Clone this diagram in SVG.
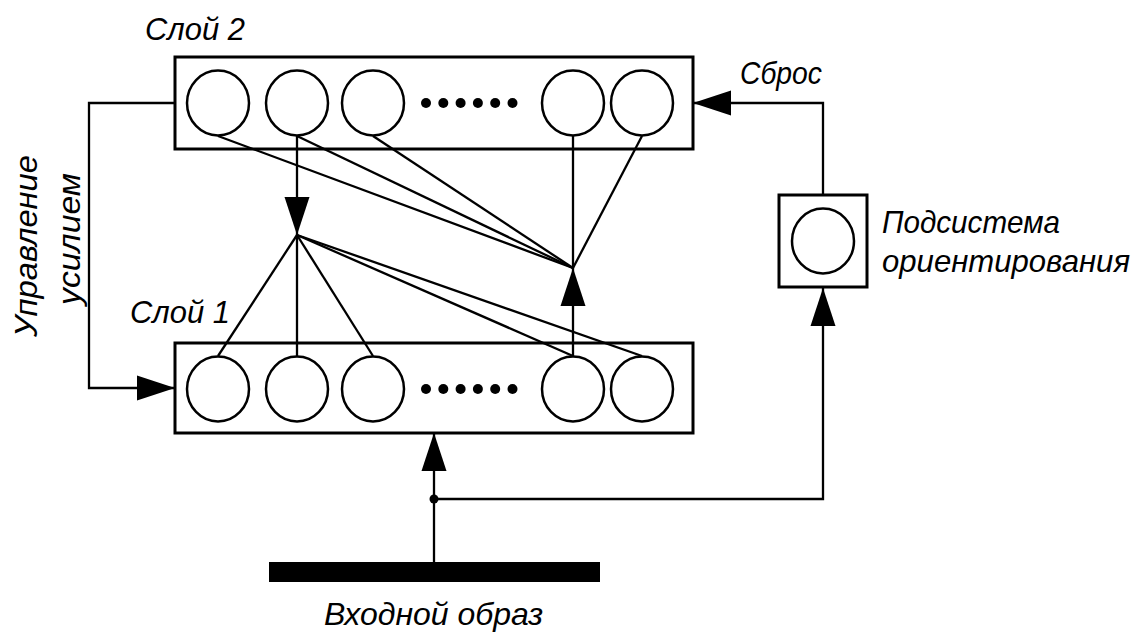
<svg xmlns="http://www.w3.org/2000/svg" width="1136" height="633" viewBox="0 0 1136 633">
  <style>
    .box { fill: #fff; stroke: #000; stroke-width: 3; }
    .neuron { fill: #fff; stroke: #000; stroke-width: 2.5; }
    .dot { fill: #000; }
    .wire { fill: none; stroke: #000; stroke-width: 2.3; }
    .lbl { font-family: "Liberation Sans", Arial, sans-serif; font-style: italic; font-size: 32px; fill: #000; }
  </style>
  <defs>
    <marker id="arrow" markerUnits="userSpaceOnUse" markerWidth="40" markerHeight="26" viewBox="0 0 40 26" refX="39" refY="13" orient="auto">
      <path d="M1,0.5 L39,13 L1,25.5 Z" fill="#000"/>
    </marker>
    <ellipse id="cell" rx="31" ry="32.5" class="neuron"/>
  </defs>

  <rect width="1136" height="633" fill="#fff"/>

  <!-- connectors -->
  <g id="connectors">
    <!-- gain control loop: layer 2 -> layer 1 -->
    <polyline class="wire" points="175,103 89,103 89,388 175,388" marker-end="url(#arrow)"/>
    <!-- reset: orienting subsystem -> layer 2 -->
    <polyline class="wire" points="823,195 823,103 693,103" marker-end="url(#arrow)"/>
    <!-- input pattern -> layer 1 -->
    <line class="wire" x1="434" y1="562" x2="434" y2="433" marker-end="url(#arrow)"/>
    <!-- input pattern -> orienting subsystem -->
    <polyline class="wire" points="434,499 823,499 823,288" marker-end="url(#arrow)"/>
    <circle class="dot" cx="434" cy="499" r="4.5"/>

    <!-- top-down: layer 2 -> fan point -> layer 1 -->
    <line class="wire" x1="297" y1="136" x2="297" y2="235" marker-end="url(#arrow)"/>
    <line class="wire" x1="297" y1="235" x2="218" y2="356"/>
    <line class="wire" x1="297" y1="235" x2="297" y2="356"/>
    <line class="wire" x1="297" y1="235" x2="373" y2="356"/>
    <line class="wire" x1="297" y1="235" x2="573" y2="356"/>
    <line class="wire" x1="297" y1="235" x2="642" y2="356"/>

    <!-- bottom-up: layer 1 -> fan point -> layer 2 -->
    <line class="wire" x1="573" y1="356" x2="573" y2="268" marker-end="url(#arrow)"/>
    <line class="wire" x1="573" y1="268" x2="218" y2="136"/>
    <line class="wire" x1="573" y1="268" x2="297" y2="136"/>
    <line class="wire" x1="573" y1="268" x2="373" y2="136"/>
    <line class="wire" x1="573" y1="268" x2="573" y2="136"/>
    <line class="wire" x1="573" y1="268" x2="642" y2="136"/>
  </g>

  <!-- layer 2 -->
  <g id="layer2">
    <rect class="box" x="175" y="57" width="518" height="92" style="fill:none"/>
    <use href="#cell" x="218" y="103"/>
    <use href="#cell" x="297" y="103"/>
    <use href="#cell" x="373" y="103"/>
    <use href="#cell" x="573" y="103"/>
    <use href="#cell" x="642" y="103"/>
    <g class="dot">
      <circle cx="426" cy="103" r="5"/>
      <circle cx="443.3" cy="103" r="5"/>
      <circle cx="460.6" cy="103" r="5"/>
      <circle cx="477.9" cy="103" r="5"/>
      <circle cx="495.2" cy="103" r="5"/>
      <circle cx="512.5" cy="103" r="5"/>
    </g>
    <text class="lbl" x="145" y="40" textLength="100" lengthAdjust="spacingAndGlyphs">Слой 2</text>
  </g>

  <!-- layer 1 -->
  <g id="layer1">
    <rect class="box" x="175" y="343" width="518" height="90" style="fill:none"/>
    <use href="#cell" x="218" y="389"/>
    <use href="#cell" x="297" y="389"/>
    <use href="#cell" x="373" y="389"/>
    <use href="#cell" x="573" y="389"/>
    <use href="#cell" x="642" y="389"/>
    <g class="dot">
      <circle cx="426" cy="389" r="5"/>
      <circle cx="443.3" cy="389" r="5"/>
      <circle cx="460.6" cy="389" r="5"/>
      <circle cx="477.9" cy="389" r="5"/>
      <circle cx="495.2" cy="389" r="5"/>
      <circle cx="512.5" cy="389" r="5"/>
    </g>
    <text class="lbl" x="130" y="323" textLength="100" lengthAdjust="spacingAndGlyphs">Слой 1</text>
  </g>

  <!-- orienting subsystem -->
  <g id="orienting">
    <rect class="box" x="779" y="195" width="88" height="92"/>
    <use href="#cell" x="823" y="241"/>
    <text class="lbl" x="882" y="233" textLength="178" lengthAdjust="spacingAndGlyphs">Подсистема</text>
    <text class="lbl" x="882" y="272" textLength="248" lengthAdjust="spacingAndGlyphs">ориентирования</text>
  </g>

  <!-- input pattern -->
  <g id="input">
    <rect x="269" y="562" width="331" height="20" fill="#000"/>
    <text class="lbl" x="324" y="625" textLength="219" lengthAdjust="spacingAndGlyphs">Входной образ</text>
  </g>

  <!-- loop labels -->
  <g id="labels">
    <text class="lbl" x="740" y="84" textLength="82" lengthAdjust="spacingAndGlyphs">Сброс</text>
    <text class="lbl" transform="translate(37,337) rotate(-90)" textLength="182" lengthAdjust="spacingAndGlyphs">Управление</text>
    <text class="lbl" transform="translate(80,305) rotate(-90)" textLength="132" lengthAdjust="spacingAndGlyphs">усилием</text>
  </g>
</svg>
